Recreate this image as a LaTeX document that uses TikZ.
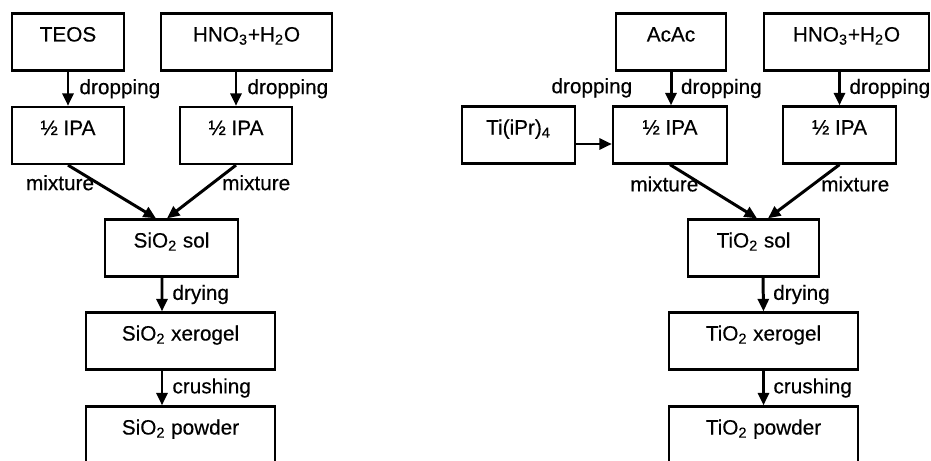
\documentclass[tikz,border=0pt]{standalone}
\usepackage{fontspec}
\setmainfont[FakeBold=0.4]{Liberation Sans}
\usepackage{tikz}
\usetikzlibrary{arrows.meta}
\usetikzlibrary{positioning}

\begin{document}
\begin{tikzpicture}[
        box/.style={draw, line width=1.3pt, inner xsep=0pt, inner ysep=0pt,
            text height=0.56cm, text depth=0.58cm},
        lbl/.style={inner sep=0pt},
        flow/.style={line width=1.7pt, -{Triangle[length=0.25cm,width=0.22cm]}},
        every node/.style={font=\fontsize{11.8pt}{13pt}\selectfont}
    ]
            \useasboundingbox (0,0) rectangle (18.62,9.2);

            \coordinate (TE) at (1.36,8.36);
            \coordinate (HL) at (4.93,8.36);
            \coordinate (IA) at (1.36,6.49);
            \coordinate (IB) at (4.72,6.49);
            \coordinate (SS) at (3.43,4.24);
            \coordinate (XS) at (3.61,2.38);
            \coordinate (PS) at (3.61,0.50);

            \coordinate (AC) at (13.42,8.36);
            \coordinate (HR) at (16.93,8.36);
            \coordinate (TI) at (10.37,6.50);
            \coordinate (IC) at (13.40,6.50);
            \coordinate (ID) at (16.79,6.50);
            \coordinate (ST) at (15.07,4.24);
            \coordinate (XT) at (15.27,2.38);
            \coordinate (PT) at (15.27,0.50);

            \node[box, minimum width=2.24cm] (teos) at (TE) {TEOS};
            \node[box, minimum width=3.42cm] (hnoL) at (HL) {HNO\textsubscript{3}+H\textsubscript{2}O};
            \node[box, minimum width=2.24cm] (ipaA) at (IA) {½ IPA};
            \node[box, minimum width=2.24cm] (ipaB) at (IB) {½ IPA};
            \node[box, minimum width=2.66cm] (solSi) at (SS) {SiO\textsubscript{2} sol};
            \node[box, minimum width=3.78cm] (xeroSi) at (XS) {SiO\textsubscript{2} xerogel};
            \node[box, minimum width=3.78cm] (powSi) at (PS) {SiO\textsubscript{2} powder};

            \node[box, minimum width=2.20cm] (acac) at (AC) {AcAc};
            \node[box, minimum width=3.30cm] (hnoR) at (HR) {HNO\textsubscript{3}+H\textsubscript{2}O};
            \node[box, minimum width=2.26cm] (ti) at (TI) {Ti(iPr)\textsubscript{4}};
            \node[box, minimum width=2.28cm] (ipaC) at (IC) {½ IPA};
            \node[box, minimum width=2.26cm] (ipaD) at (ID) {½ IPA};
            \node[box, minimum width=2.62cm] (solTi) at (ST) {TiO\textsubscript{2} sol};
            \node[box, minimum width=3.78cm] (xeroTi) at (XT) {TiO\textsubscript{2} xerogel};
            \node[box, minimum width=3.78cm] (powTi) at (PT) {TiO\textsubscript{2} powder};

            \draw[flow] (teos.south) -- node[lbl, right=0.2cm] {dropping} (ipaA.north);
            \draw[flow] (ipaB |- hnoL.south) -- node[lbl, right=0.2cm] {dropping} (ipaB.north);
            \draw[flow] (ipaA.south) -- node[lbl, pos=0.33, left=0.03cm] {mixture} ([xshift=-0.31cm]solSi.north);
            \draw[flow] (ipaB.south) -- node[lbl, pos=0.33, right=0.15cm] {mixture} ([xshift=-0.09cm]solSi.north);
            \draw[flow] ([xshift=-0.19cm]solSi.south) -- node[lbl, right=0.18cm] {drying} ([xshift=-0.37cm]xeroSi.north);
            \draw[flow] ([xshift=-0.37cm]xeroSi.south) -- node[lbl, right=0.18cm] {crushing} ([xshift=-0.37cm]powSi.north);

            \draw[flow] (acac.south) -- node[lbl, right=0.17cm] {dropping} (acac.south |- ipaC.north);
            \draw[flow] (ipaD |- hnoR.south) -- node[lbl, right=0.17cm] {dropping} (ipaD.north);
            \draw[flow] ([yshift=-0.18cm]ti.east) -- ([yshift=-0.18cm]ti.east -| ipaC.west);
            \node[lbl] (dropTi) at ([shift={(-0.4,0.35)}]ipaC.north west) {dropping};
            \draw[flow] (ipaC.south) -- node[lbl, pos=0.36, left=0.03cm] {mixture} ([xshift=0.07cm]solTi.north);
            \draw[flow] (ipaD.south) -- node[lbl, pos=0.36, right=0.12cm] {mixture} ([xshift=0.29cm]solTi.north);
            \draw[flow] ([xshift=0.19cm]solTi.south) -- node[lbl, right=0.17cm] {drying} (xeroTi.north);
            \draw[flow] (xeroTi.south) -- node[lbl, right=0.17cm] {crushing} (powTi.north);
        \end{tikzpicture}
\end{document}
